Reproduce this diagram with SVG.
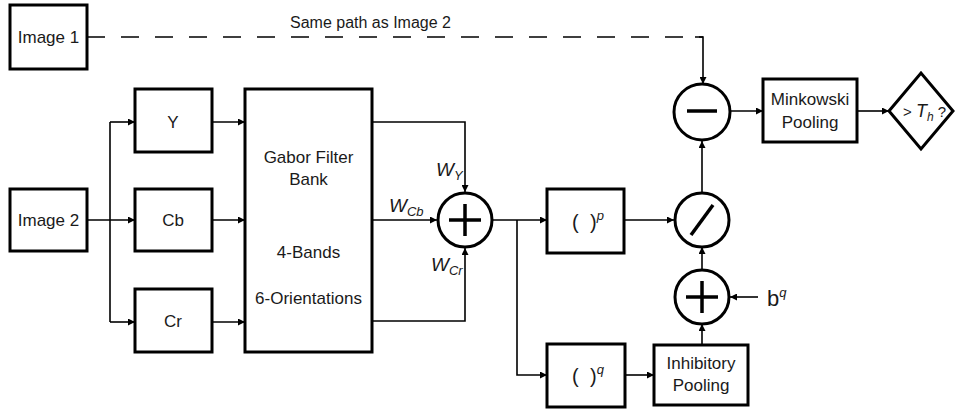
<svg xmlns="http://www.w3.org/2000/svg" width="956" height="414" viewBox="0 0 956 414">
<defs>
<marker id="ah" viewBox="0 0 10 10" refX="10" refY="5" markerWidth="8" markerHeight="7" markerUnits="userSpaceOnUse" orient="auto">
<path d="M0,0 L10,5 L0,10 z" fill="#000"/>
</marker>
<style>
.box{fill:#fff;stroke:#000;stroke-width:3}
.op{fill:#fff;stroke:#000;stroke-width:3}
.sym{stroke:#000;stroke-width:3.5;fill:none}
.c{fill:none;stroke:#000;stroke-width:1.6}
.a{marker-end:url(#ah)}
text{font-family:"Liberation Sans","DejaVu Sans",sans-serif;font-size:17px;fill:#1a1a1a}
.m{text-anchor:middle}
.i{font-style:italic}
</style>
</defs>
<rect width="956" height="414" fill="#fff"/>
<g id="connectors">
<path class="c" d="M87,37 H703" stroke-dasharray="18 16"/>
<path class="c a" d="M695,37 H703 V84"/>
<path class="c a" d="M87,220 H135"/>
<path class="c" d="M110,122 V322"/>
<path class="c a" d="M110,122 H135"/>
<path class="c a" d="M110,322 H135"/>
<path class="c a" d="M212,122 H245"/>
<path class="c a" d="M212,220 H245"/>
<path class="c a" d="M212,322 H245"/>
<path class="c a" d="M372,122 H465 V192"/>
<path class="c a" d="M372,220 H437"/>
<path class="c a" d="M372,321 H465 V248"/>
<path class="c a" d="M493,220 H547"/>
<path class="c a" d="M517,220 V375 H547"/>
<path class="c a" d="M624,220 H674"/>
<path class="c a" d="M625,375 H654"/>
<path class="c a" d="M702,345 V324"/>
<path class="c a" d="M758,297 H730"/>
<path class="c a" d="M702,269 V247"/>
<path class="c a" d="M702,192 V141"/>
<path class="c a" d="M730,111 H763"/>
<path class="c a" d="M857,111 H889"/>
</g>
<text x="290" y="28" style="font-size:16px">Same path as Image 2</text>
<g id="image1"><rect class="box" x="10" y="5" width="77" height="64"/><text class="m" x="48.5" y="43">Image 1</text></g>
<g id="image2"><rect class="box" x="10" y="189" width="77" height="62"/><text class="m" x="48.5" y="226">Image 2</text></g>
<g id="y"><rect class="box" x="135" y="89" width="77" height="63"/><text class="m" x="173" y="128">Y</text></g>
<g id="cb"><rect class="box" x="135" y="189" width="77" height="62"/><text class="m" x="173" y="226">Cb</text></g>
<g id="cr"><rect class="box" x="135" y="289" width="77" height="63"/><text class="m" x="173" y="327">Cr</text></g>
<g id="gabor"><rect class="box" x="245" y="89" width="127" height="263"/>
<text class="m" x="308.5" y="163">Gabor Filter</text>
<text class="m" x="308.5" y="185">Bank</text>
<text class="m" x="308.5" y="258">4-Bands</text>
<text class="m" x="308.5" y="304">6-Orientations</text></g>
<g id="weights">
<text class="i" x="436" y="176" style="font-size:19px">W<tspan style="font-size:13px" dy="4">Y</tspan></text>
<text class="i" x="389" y="212" style="font-size:19px">W<tspan style="font-size:13px" dy="4">Cb</tspan></text>
<text class="i" x="431" y="271" style="font-size:19px">W<tspan style="font-size:13px" dy="4">Cr</tspan></text>
</g>
<g id="sum1"><circle class="op" cx="465" cy="220" r="27"/><path class="sym" d="M449,220 H481 M465,204 V236"/></g>
<g id="powp"><rect class="box" x="547" y="189" width="77" height="64"/><text x="572" y="229" style="font-size:20px">(<tspan x="590">)</tspan><tspan class="i" style="font-size:13px" dy="-9">p</tspan></text></g>
<g id="powq"><rect class="box" x="547" y="344" width="78" height="63"/><text x="572" y="383" style="font-size:20px">(<tspan x="590">)</tspan><tspan class="i" style="font-size:13px" dy="-9">q</tspan></text></g>
<g id="inhib"><rect class="box" x="654" y="345" width="94" height="60"/>
<text class="m" x="701" y="369">Inhibitory</text><text class="m" x="701" y="391">Pooling</text></g>
<g id="sum2"><circle class="op" cx="702" cy="297" r="27"/><path class="sym" d="M686,297 H718 M702,281 V313"/></g>
<g id="bq"><text x="767" y="306" style="font-size:22px">b<tspan class="i" style="font-size:13px" dy="-9">q</tspan></text></g>
<g id="divide"><circle class="op" cx="702" cy="220" r="27"/><path class="sym" d="M691,235 L713,205"/></g>
<g id="minus"><circle class="op" cx="702" cy="112" r="28"/><path class="sym" d="M687,111 H717"/></g>
<g id="minkowski"><rect class="box" x="763" y="79" width="94" height="63"/>
<text class="m" x="810" y="105">Minkowski</text><text class="m" x="810" y="128">Pooling</text></g>
<g id="threshold"><path class="box" d="M889,111 L921,73 L953,111 L921,149 z"/>
<text x="903" y="117" style="font-size:15px">&gt; <tspan class="i" style="font-size:18px">T</tspan><tspan class="i" style="font-size:12px" dy="4">h</tspan><tspan dy="-4"> ?</tspan></text></g>
</svg>
